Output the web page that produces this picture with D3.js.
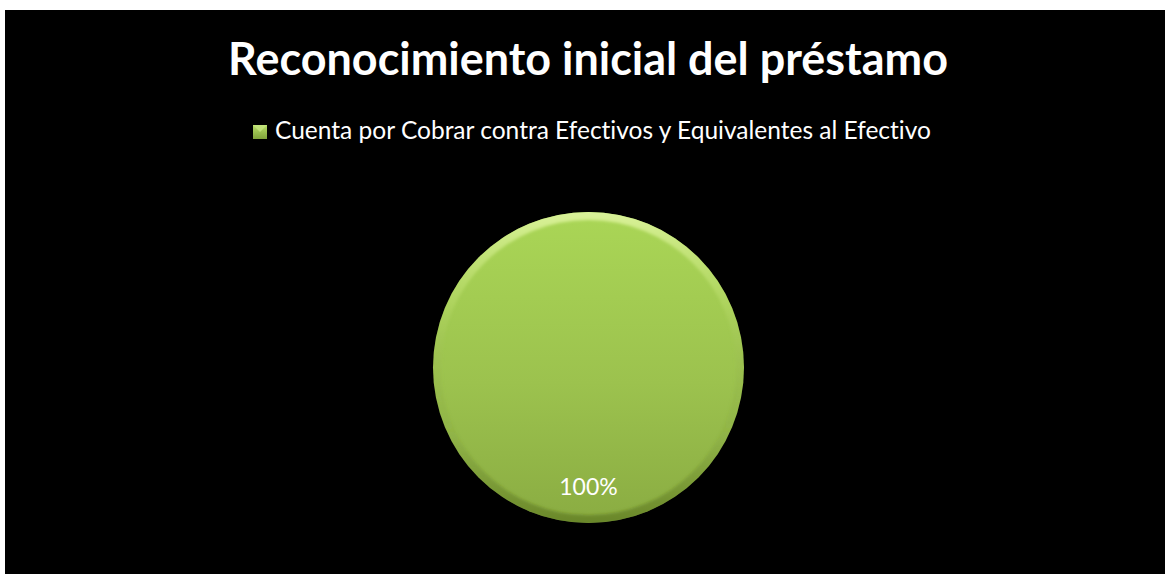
<!DOCTYPE html>
<html>
<head>
<meta charset="utf-8">
<script src="https://cdn.jsdelivr.net/npm/d3@7"></script>
<style>
  html, body { margin: 0; padding: 0; background: #ffffff; }
  svg { display: block; }
  text { font-variant-ligatures: none; font-feature-settings: "liga" 0, "clig" 0; }
</style>
</head>
<body>
<svg id="chart" width="1165" height="574"></svg>
<script>
// Chart content
const chartTitle = "Reconocimiento inicial del préstamo";
const categories = ["Cuenta por Cobrar contra Efectivos y Equivalentes al Efectivo"];
const values = [100];
const percentLabels = ["100%"];

const W = 1165, H = 574;
const svg = d3.select("#chart");
const defs = svg.append("defs");

// Chart area (black panel)
svg.append("rect")
  .attr("x", 5).attr("y", 10)
  .attr("width", W - 5).attr("height", H - 10)
  .attr("fill", "#000000");

// Fit a text element to a target width by adjusting its font size
function fitWidth(sel, target) {
  const base = parseFloat(sel.attr("font-size"));
  const w = sel.node().getComputedTextLength();
  sel.attr("font-size", (base * target / w).toFixed(2));
}

// Title
const title = svg.append("text")
  .attr("x", 588).attr("y", 75)
  .attr("text-anchor", "middle")
  .attr("font-family", "Lato, 'Open Sans', sans-serif")
  .attr("font-weight", "bold")
  .attr("font-size", 40)
  .attr("fill", "#ffffff")
  .text(chartTitle);
fitWidth(title, 720);

// Gradients for the pie and the legend swatch
const fillGrad = defs.append("linearGradient")
  .attr("id", "pieFill").attr("x1", 0).attr("y1", 0).attr("x2", 0).attr("y2", 1);
fillGrad.append("stop").attr("offset", "0%").attr("stop-color", "#aad656");
fillGrad.append("stop").attr("offset", "55%").attr("stop-color", "#9cc24e");
fillGrad.append("stop").attr("offset", "100%").attr("stop-color", "#8aac42");

const rimGrad = defs.append("linearGradient")
  .attr("id", "rimGrad").attr("x1", 0).attr("y1", 0).attr("x2", 0).attr("y2", 1);
rimGrad.append("stop").attr("offset", "0%").attr("stop-color", "#e4f8a8").attr("stop-opacity", 0.85);
rimGrad.append("stop").attr("offset", "30%").attr("stop-color", "#c6e678").attr("stop-opacity", 0.3);
rimGrad.append("stop").attr("offset", "70%").attr("stop-color", "#5f7a26").attr("stop-opacity", 0.08);
rimGrad.append("stop").attr("offset", "100%").attr("stop-color", "#4d6619").attr("stop-opacity", 0.55);

const blur = defs.append("filter").attr("id", "soft")
  .attr("x", "-10%").attr("y", "-10%").attr("width", "120%").attr("height", "120%");
blur.append("feGaussianBlur").attr("stdDeviation", 1.6);

const clip = defs.append("clipPath").attr("id", "pieClip");

// Legend
const legend = svg.append("g");
const legendText = legend.append("text")
  .attr("x", 275).attr("y", 139)
  .attr("font-family", "Lato, 'Open Sans', sans-serif")
  .attr("font-size", 22)
  .attr("fill", "#ffffff")
  .text(categories[0]);
fitWidth(legendText, 656);

const swGrad = defs.append("linearGradient")
  .attr("id", "swatch").attr("x1", 0).attr("y1", 0).attr("x2", 0).attr("y2", 1);
swGrad.append("stop").attr("offset", "0%").attr("stop-color", "#b6dd66");
swGrad.append("stop").attr("offset", "100%").attr("stop-color", "#7fa23a");
legend.append("rect")
  .attr("x", 253).attr("y", 125).attr("width", 14).attr("height", 14)
  .attr("fill", "url(#swatch)");
// Bevelled top facet of the swatch
legend.append("path")
  .attr("d", "M253,125 L267,125 L260,132 Z")
  .attr("fill", "#c5e57f").attr("opacity", 0.8);

// Pie
const cx = 588.5, cy = 367.5, radius = 155.5;
const pie = d3.pie().sort(null).value(d => d);
const arcs = pie(values);
const arc = d3.arc().innerRadius(0).outerRadius(radius);

const g = svg.append("g").attr("transform", `translate(${cx},${cy})`);

clip.append("path").attr("d", arc(arcs[0])).attr("transform", `translate(${cx},${cy})`);

g.selectAll("path.slice")
  .data(arcs)
  .join("path")
  .attr("class", "slice")
  .attr("d", arc)
  .attr("fill", "url(#pieFill)");

// Soft bevel along the rim of the slice
const rim = d3.arc().innerRadius(radius - 8).outerRadius(radius + 2);
svg.append("g")
  .attr("clip-path", "url(#pieClip)")
  .append("g")
  .attr("transform", `translate(${cx},${cy})`)
  .selectAll("path.rim")
  .data(arcs)
  .join("path")
  .attr("class", "rim")
  .attr("d", rim)
  .attr("fill", "url(#rimGrad)")
  .attr("filter", "url(#soft)");

// Data labels
g.selectAll("text.label")
  .data(arcs)
  .join("text")
  .attr("class", "label")
  .attr("x", 0)
  .attr("y", radius * 0.82)
  .attr("text-anchor", "middle")
  .attr("font-family", "Lato, 'Open Sans', sans-serif")
  .attr("font-size", 23)
  .attr("fill", "#ffffff")
  .text((d, i) => percentLabels[i]);
</script>
</body>
</html>
